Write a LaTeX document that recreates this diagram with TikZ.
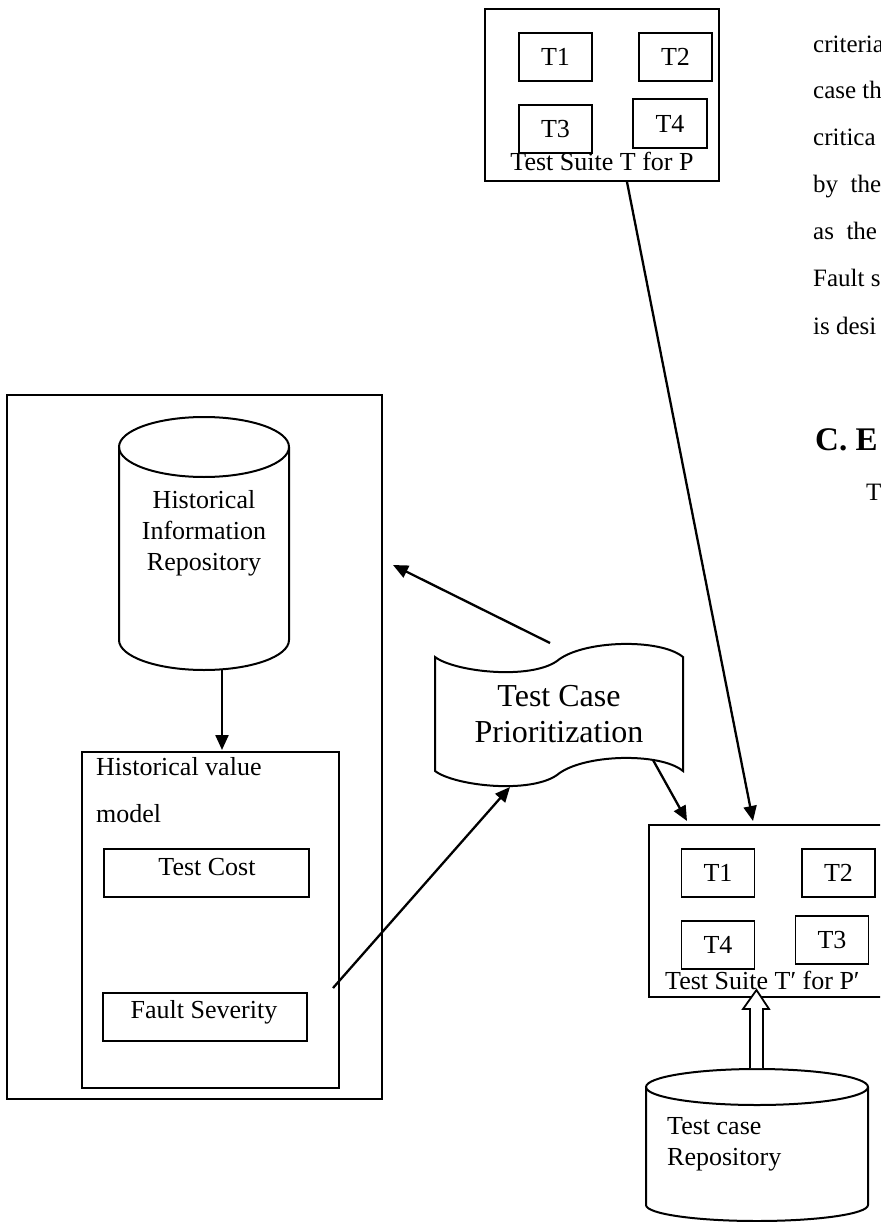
\documentclass[tikz,border=0pt]{standalone}
\usepackage{fontspec}
\setmainfont{Liberation Serif}
\usetikzlibrary{arrows.meta}
\begin{document}
\begin{tikzpicture}[x=1pt,y=-1pt,
  box/.style={draw, line width=2.2pt, inner sep=0pt},
  tbox/.style={box, line width=1.9pt, minimum width=73pt, minimum height=48pt, font=\fontsize{26}{31}\selectfont},
  txt/.style={font=\fontsize{26}{31}\selectfont, inner sep=0pt},
  coltxt/.style={font=\fontsize{25}{30}\selectfont, inner sep=0pt, anchor=base west},
  shp/.style={line width=2pt},
  arr/.style={line width=2.3pt, -{Triangle[length=15pt,width=13pt]}}]
\useasboundingbox (0,0) rectangle (880,1222);
\clip (0,0) rectangle (880,1222);

% ---- Test suite T for P
\node[box, minimum width=234pt, minimum height=172pt] (ts) at (602,95) {};
\node[tbox] (ta) at (555.5,57) {T1};
\node[tbox] (tb) at (675.5,57) {T2};
\node[tbox] (tc) at (555.5,129) {T3};
\node[tbox, minimum width=74pt, minimum height=49pt] (td) at (670,123.5) {T4};
\node[txt, anchor=base] (tslab) at (602,171) {Test Suite T for P};

% ---- left outer box
\node[box, minimum width=375pt, minimum height=704pt] (outer) at (194.5,747) {};

% ---- Historical Information Repository cylinder
\draw[shp] (119,447) -- (119,640) arc[start angle=180, end angle=0, x radius=85, y radius=30] -- (289,447);
\draw[shp] (204,447) ellipse[x radius=85, y radius=30];
\node[txt, align=center] (hir) at (204,533) {Historical\\Information\\Repository};
\coordinate (hirb) at (222,670);

% ---- Historical value model
\node[box, minimum width=257pt, minimum height=336pt] (hvm) at (210.5,920) {};
\node[txt, anchor=base west] (hvml1) at (96,775) {Historical value};
\node[txt, anchor=base west] (hvml2) at (96,822) {model};
\node[box, line width=1.9pt, minimum width=205pt, minimum height=48pt] (cost) at (206.5,873) {};
\node[txt, anchor=base] (costl) at (207,875) {Test Cost};
\node[box, line width=1.9pt, minimum width=204pt, minimum height=48pt] (fs) at (205,1017) {};
\node[txt, anchor=base] (fsl) at (204,1018) {Fault Severity};
\coordinate (hvmt) at (222,750);
\coordinate (fsout) at (333,988);

% ---- Test Case Prioritization (tape)
\draw[shp] (435,657) .. controls (455,672) and (530,680) .. (557,661)
  .. controls (582,640) and (660,638) .. (683,657)
  -- (683,771) .. controls (660,752) and (582,754) .. (557,775)
  .. controls (530,794) and (455,786) .. (435,771) -- cycle;
\node[font=\fontsize{32}{36}\selectfont, inner sep=0pt, align=center] (pr) at (559,714) {Test Case\\Prioritization};
\coordinate (prtop) at (550,643);
\coordinate (prbot) at (653,760);
\coordinate (prin) at (510,787);
\coordinate (hirin) at (393,565);

% ---- Test suite T' for P'
\node[box, minimum width=234pt, minimum height=172pt] (tsp) at (766,911) {};
\node[tbox] (pa) at (718,873) {T1};
\node[tbox] (pb) at (838.5,873) {T2};
\node[tbox] (pd) at (718,945) {T4};
\node[tbox] (pc) at (832,940) {T3};
\node[txt, anchor=base west] (tsplab) at (665,989) {Test Suite T′ for P′};
\coordinate (tsout) at (627,182);
\coordinate (tspin1) at (687,821);
\coordinate (tspin2) at (753,821);

% ---- Test case Repository cylinder
\draw[shp, fill=white] (646,1087) -- (646,1205) arc[start angle=180, end angle=0, x radius=111, y radius=16] -- (868,1087);
\draw[shp] (757,1087) ellipse[x radius=111, y radius=18];
\node[txt, align=left, anchor=west] (tcr) at (667,1144) {Test case\\Repository};

% ---- hollow arrow from repository to T'
\draw[line width=1.8pt, fill=white] (750,1068) -- (750,1009) -- (743,1009) -- (756.5,990)
  -- (769,1009) -- (763,1009) -- (763,1068);

% ---- arrows
\draw[arr] (hirb) -- (hvmt);
\draw[arr] (prtop) -- (hirin);
\draw[arr] (fsout) -- (prin);
\draw[arr] (prbot) -- (tspin1);
\draw[arr] (tsout) -- (tspin2);

% ---- surrounding page text
\node[coltxt] (c1) at (813,53) {criteria};
\node[coltxt] (c2) at (813,99) {case th};
\node[coltxt] (c3) at (813,146) {critica};
\node[coltxt] (c4) at (813,193) {by\ \ the};
\node[coltxt] (c5) at (813,240) {as\ \ the};
\node[coltxt] (c6) at (813,287) {Fault s};
\node[coltxt] (c7) at (813,334) {is desi};
\node[font=\fontsize{33}{36}\selectfont\bfseries, inner sep=0pt, anchor=base west] (hd) at (815,450) {C. E};
\node[coltxt] (c8) at (866,500) {T};
\end{tikzpicture}
\end{document}
